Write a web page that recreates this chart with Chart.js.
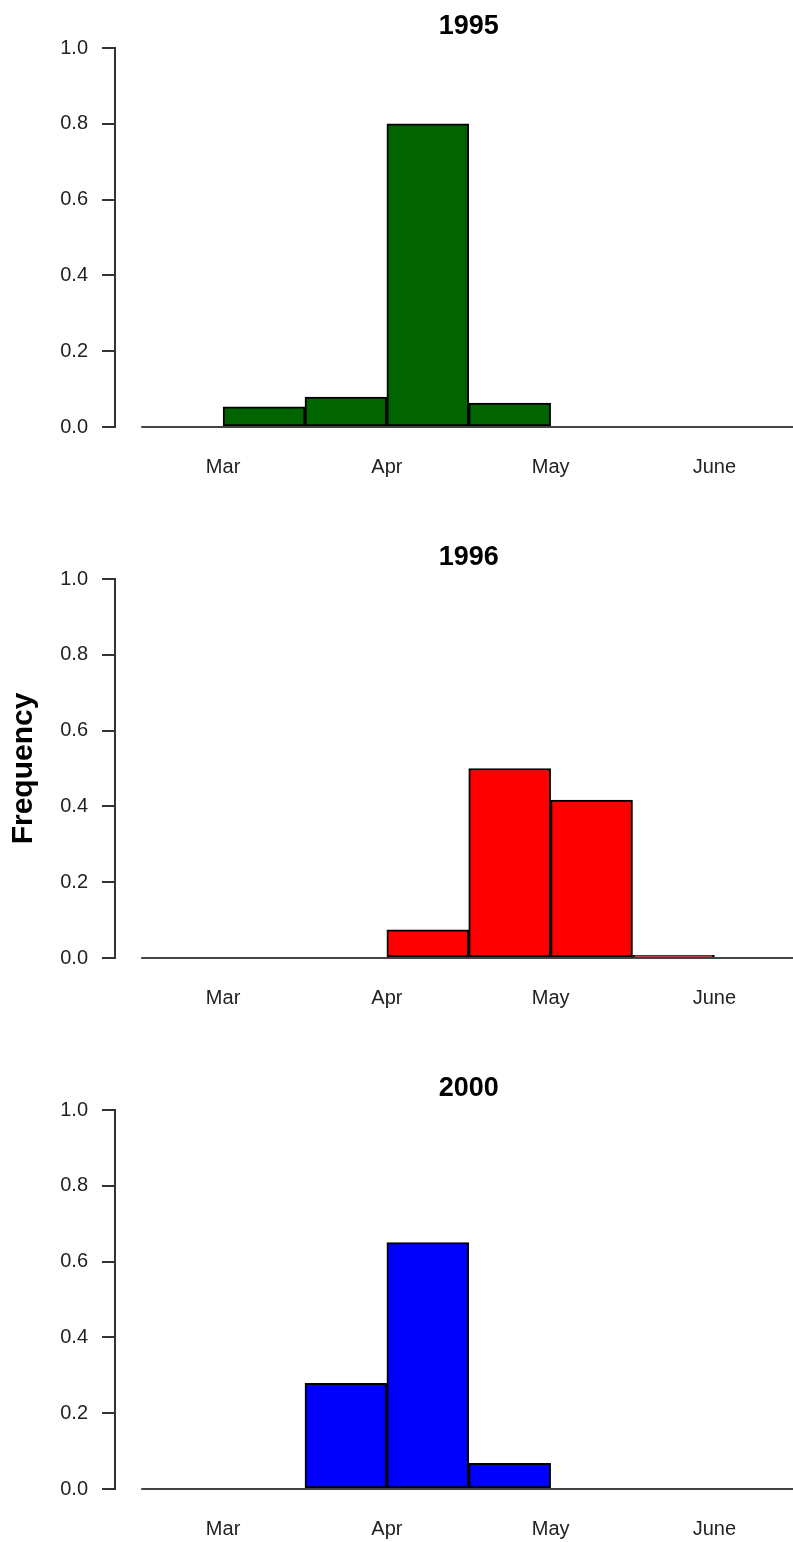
<!DOCTYPE html>
<html>
<head>
<meta charset="utf-8">
<script src="https://cdn.jsdelivr.net/npm/chart.js@4"></script>
<style>
  body { margin: 0; background: #fff; }
  .panel { position: absolute; left: 0; width: 793px; height: 480px; }
</style>
</head>
<body>
<div class="panel" style="top:0"><canvas id="c1995"></canvas></div>
<div class="panel" style="top:531px"><canvas id="c1996"></canvas></div>
<div class="panel" style="top:1062px"><canvas id="c2000"></canvas></div>
<script>
// half-month bins, x in months (3 = 1 Mar, 4 = 1 Apr ...)
const binEdges = [2.5, 3, 3.5, 4, 4.5, 5, 5.5, 6, 6.5];
const monthTicks = [3, 4, 5, 6];
const monthLabels = ['Mar', 'Apr', 'May', 'June'];
const yTicks = [0, 0.2, 0.4, 0.6, 0.8, 1.0];

const freq1995 = [0, 0.053, 0.079, 0.80, 0.063, 0, 0, 0];
const freq1996 = [0, 0, 0, 0.074, 0.50, 0.417, 0.007, 0];
const freq2000 = [0, 0, 0.279, 0.65, 0.068, 0, 0, 0];

const FONT = '"Liberation Sans", Arial, sans-serif';

// baseline under the bins + R-style title
const histExtras = {
    id: 'histExtras',
    beforeDatasetsDraw(chart) {
        const { ctx, chartArea, scales: { x, y } } = chart;
        const y0 = y.getPixelForValue(0);
        ctx.save();
        ctx.strokeStyle = '#444';
        ctx.lineWidth = 2;
        ctx.beginPath();
        ctx.moveTo(x.getPixelForValue(binEdges[0]), y0);
        ctx.lineTo(chartArea.right, y0);
        ctx.stroke();
        ctx.restore();
    },
    afterDraw(chart, args, opts) {
        const { ctx, scales: { x } } = chart;
        const mid = (binEdges[0] + binEdges[binEdges.length - 1]) / 2;
        ctx.save();
        ctx.font = 'bold 27px ' + FONT;
        ctx.fillStyle = '#000';
        ctx.textAlign = 'center';
        ctx.textBaseline = 'middle';
        ctx.fillText(opts.text, x.getPixelForValue(mid), 27);
        ctx.restore();
    }
};

function makePanel(id, title, values, color, showYTitle) {
    const points = values.map((v, i) => ({ x: (binEdges[i] + binEdges[i + 1]) / 2, y: v }));
    new Chart(document.getElementById(id), {
        type: 'bar',
        data: {
            datasets: [{
                data: points,
                backgroundColor: color,
                borderColor: '#000',
                borderWidth: 2,
                borderSkipped: false,
                barPercentage: 1,
                categoryPercentage: 1
            }]
        },
        options: {
            responsive: true,
            maintainAspectRatio: false,
            animation: false,
            layout: { padding: { top: 48, left: 0, right: 0, bottom: 0 } },
            plugins: {
                legend: { display: false },
                tooltip: { enabled: false },
                histExtras: { text: title }
            },
            scales: {
                x: {
                    type: 'linear',
                    offset: false,
                    min: 2.34,
                    max: 6.48,
                    afterFit: s => { s.height = 53; },
                    afterBuildTicks: s => { s.ticks = monthTicks.map(v => ({ value: v })); },
                    grid: { display: false, drawTicks: false },
                    border: { display: false },
                    ticks: {
                        padding: 28,
                        color: '#222',
                        font: { family: FONT, size: 20 },
                        callback: v => monthLabels[monthTicks.indexOf(v)]
                    }
                },
                y: {
                    min: 0,
                    max: 1,
                    afterFit: s => { s.width = 115; },
                    afterBuildTicks: s => { s.ticks = yTicks.map(v => ({ value: v })); },
                    border: { display: true, color: '#333', width: 2 },
                    grid: { drawOnChartArea: false, tickLength: 13, color: '#333', lineWidth: 2 },
                    ticks: {
                        padding: 14,
                        color: '#222',
                        font: { family: FONT, size: 20 },
                        callback: v => v.toFixed(1)
                    },
                    title: {
                        display: showYTitle,
                        text: 'Frequency',
                        color: '#000',
                        font: { family: FONT, size: 30, weight: 'bold' },
                        padding: { top: 6, bottom: 0 }
                    }
                }
            }
        },
        plugins: [histExtras]
    });
}

makePanel('c1995', '1995', freq1995, '#006400', false);
makePanel('c1996', '1996', freq1996, '#ff0000', true);
makePanel('c2000', '2000', freq2000, '#0000ff', false);
</script>
</body>
</html>
